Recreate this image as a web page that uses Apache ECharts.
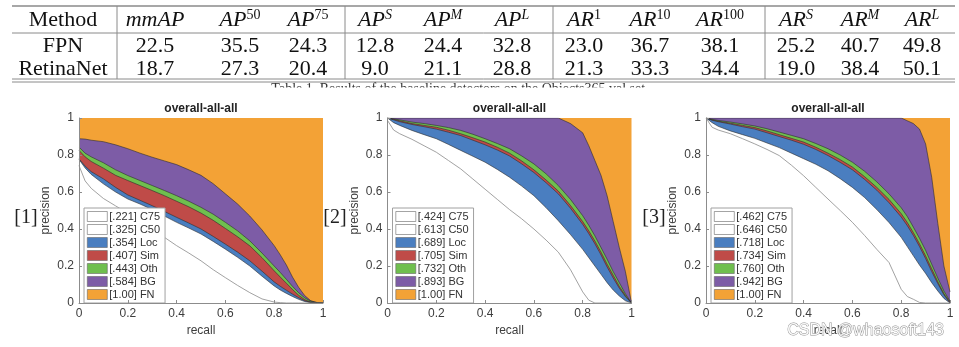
<!DOCTYPE html>
<html>
<head>
<meta charset="utf-8">
<script src="https://cdn.jsdelivr.net/npm/echarts@6/dist/echarts.min.js"></script>
<style>
  html, body { margin: 0; padding: 0; background: #fff; }
  #chart { width: 959px; height: 347px; }
</style>
</head>
<body>
<div id="chart"></div>
<script>
// ---- Table: baseline detector scores ----
const tableMethods = ['FPN', 'RetinaNet'];
const headBase = ['Method', 'mmAP', 'AP', 'AP', 'AP', 'AP', 'AP', 'AR', 'AR', 'AR', 'AR', 'AR', 'AR'];
const headSup = ['', '', '50', '75', 'S', 'M', 'L', '1', '10', '100', 'S', 'M', 'L'];
const fpnScores = [22.5, 35.5, 24.3, 12.8, 24.4, 32.8, 23.0, 36.7, 38.1, 25.2, 40.7, 49.8];
const retinaScores = [18.7, 27.3, 20.4, 9.0, 21.1, 28.8, 21.3, 33.3, 34.4, 19.0, 38.4, 50.1];
const tableCaption = 'Table 1. Results of the baseline detectors on the Objects365 val set.';

// ---- PR breakdown curves (precision at each recall level) ----
const recallGrid = [0, 0.025, 0.05, 0.1, 0.15, 0.2, 0.25, 0.3, 0.35, 0.4, 0.45, 0.5, 0.55, 0.6, 0.65, 0.7, 0.75, 0.8, 0.825, 0.85, 0.875, 0.9, 0.925, 0.95, 0.975, 1];
const fnRecall = [0, 1];
const fnPrecision = [1, 1];

// panel [1]
const bg1  = [0.888,0.886,0.880,0.872,0.855,0.834,0.810,0.788,0.768,0.748,0.720,0.690,0.645,0.590,0.535,0.470,0.395,0.310,0.260,0.205,0.140,0.085,0.040,0.012,0.003,0];
const oth1 = [0.843,0.810,0.790,0.758,0.720,0.689,0.662,0.635,0.608,0.580,0.550,0.517,0.480,0.436,0.390,0.336,0.270,0.200,0.165,0.128,0.090,0.056,0.028,0.010,0.002,0];
const sim1 = [0.825,0.790,0.765,0.729,0.690,0.662,0.635,0.608,0.580,0.550,0.520,0.486,0.447,0.403,0.358,0.309,0.245,0.174,0.140,0.107,0.073,0.042,0.018,0.005,0.001,0];
const loc1 = [0.779,0.740,0.710,0.671,0.625,0.584,0.555,0.526,0.495,0.463,0.432,0.400,0.360,0.318,0.275,0.228,0.172,0.114,0.090,0.069,0.048,0.029,0.012,0.003,0,0];
const c50a = [0.776,0.730,0.695,0.644,0.600,0.562,0.535,0.505,0.470,0.436,0.405,0.373,0.333,0.291,0.247,0.200,0.145,0.092,0.070,0.052,0.035,0.020,0.008,0.002,0,0];
const c75a = [0.743,0.660,0.620,0.565,0.525,0.485,0.445,0.400,0.355,0.310,0.270,0.228,0.180,0.137,0.095,0.056,0.022,0.005,0.002,0,0,0,0,0,0,0];
const legend1 = ['[.221] C75', '[.325] C50', '[.354] Loc', '[.407] Sim', '[.443] Oth', '[.584] BG', '[1.00] FN'];

// panel [2]
const bg2  = [1,1,1,1,1,1,1,1,1,1,1,1,1,1,1,1,0.970,0.920,0.850,0.770,0.690,0.580,0.440,0.300,0.170,0];
const oth2 = [1,0.995,0.990,0.978,0.970,0.960,0.948,0.933,0.912,0.888,0.862,0.834,0.795,0.752,0.698,0.635,0.560,0.472,0.420,0.363,0.300,0.237,0.170,0.110,0.050,0];
const sim2 = [1,0.993,0.985,0.970,0.960,0.950,0.934,0.915,0.893,0.870,0.842,0.810,0.768,0.720,0.665,0.605,0.527,0.440,0.390,0.335,0.275,0.210,0.150,0.090,0.040,0];
const loc2 = [1,0.990,0.980,0.965,0.953,0.940,0.923,0.905,0.880,0.855,0.827,0.795,0.752,0.705,0.650,0.590,0.512,0.425,0.375,0.320,0.260,0.195,0.135,0.080,0.035,0];
const c50b = [1,0.975,0.960,0.933,0.910,0.888,0.857,0.825,0.793,0.761,0.722,0.680,0.632,0.580,0.515,0.445,0.370,0.290,0.245,0.200,0.155,0.110,0.070,0.038,0.012,0];
const c75b = [0.987,0.935,0.915,0.885,0.850,0.815,0.770,0.725,0.670,0.615,0.560,0.505,0.455,0.400,0.340,0.275,0.180,0.060,0.015,0,0,0,0,0,0,0];
const legend2 = ['[.424] C75', '[.613] C50', '[.689] Loc', '[.705] Sim', '[.732] Oth', '[.893] BG', '[1.00] FN'];

// panel [3]
const bg3  = [1,1,1,1,1,1,1,1,1,1,1,1,1,1,1,1,1,1,0.985,0.970,0.940,0.860,0.680,0.430,0.200,0.060];
const oth3 = [1,0.993,0.987,0.978,0.968,0.957,0.942,0.924,0.906,0.888,0.862,0.834,0.800,0.761,0.712,0.655,0.590,0.515,0.468,0.410,0.350,0.285,0.210,0.135,0.065,0.010];
const sim3 = [1,0.990,0.983,0.972,0.960,0.948,0.930,0.910,0.890,0.870,0.842,0.810,0.775,0.735,0.683,0.625,0.560,0.483,0.435,0.380,0.320,0.255,0.185,0.115,0.050,0.005];
const loc3 = [1,0.988,0.980,0.967,0.953,0.940,0.920,0.900,0.880,0.858,0.830,0.797,0.760,0.720,0.668,0.610,0.542,0.465,0.418,0.365,0.305,0.240,0.170,0.105,0.045,0];
const c50c = [1,0.975,0.955,0.930,0.910,0.890,0.865,0.840,0.810,0.780,0.750,0.715,0.672,0.625,0.570,0.505,0.435,0.355,0.305,0.255,0.205,0.160,0.110,0.065,0.025,0];
const c75c = [1,0.950,0.935,0.915,0.888,0.860,0.830,0.797,0.745,0.688,0.625,0.562,0.500,0.436,0.365,0.290,0.219,0.074,0.035,0.020,0.003,0,0,0,0,0];
const legend3 = ['[.462] C75', '[.646] C50', '[.718] Loc', '[.734] Sim', '[.760] Oth', '[.942] BG', '[1.00] FN'];

const panelTitle = 'overall-all-all';
const panelTags = ['[1]', '[2]', '[3]'];

// ---- styling ----
const SANS = 'Liberation Sans, Arial, sans-serif';
const SERIF = 'Liberation Serif, Times New Roman, serif';
const AXIS_GREY = '#8c8c8c';
const TEXT_GREY = '#3d3d3d';
const EDGE = '#2e2e2e';
const fillColors = { C75: '#ffffff', C50: '#ffffff', Loc: '#4a7ec0', Sim: '#bf4b48', Oth: '#6fbf4e', BG: '#7d5ca6', FN: '#f3a236' };

const grids = [
  { left: 79, top: 118, width: 244, height: 185 },
  { left: 387.5, top: 118, width: 244, height: 185 },
  { left: 706, top: 118, width: 244, height: 185 }
];

const panels = [
  { curves: { BG: bg1, Oth: oth1, Sim: sim1, Loc: loc1, C50: c50a, C75: c75a }, labels: legend1 },
  { curves: { BG: bg2, Oth: oth2, Sim: sim2, Loc: loc2, C50: c50b, C75: c75b }, labels: legend2 },
  { curves: { BG: bg3, Oth: oth3, Sim: sim3, Loc: loc3, C50: c50c, C75: c75c }, labels: legend3 }
];
const legendKeys = ['C75', 'C50', 'Loc', 'Sim', 'Oth', 'BG', 'FN'];
const drawOrder = ['FN', 'BG', 'Oth', 'Sim', 'Loc', 'C50', 'C75'];

const xAxes = [], yAxes = [], series = [], legends = [], graphics = [];

panels.forEach((panel, i) => {
  const g = grids[i];
  xAxes.push({
    gridIndex: i, type: 'value', min: 0, max: 1, interval: 0.2, z: 5,
    name: 'recall', nameLocation: 'middle', nameGap: 18,
    nameTextStyle: { fontFamily: SANS, fontSize: 12, color: TEXT_GREY },
    axisLine: { lineStyle: { color: AXIS_GREY, width: 1 } },
    axisTick: { show: true, inside: true, length: 3, lineStyle: { color: AXIS_GREY } },
    axisLabel: { margin: 5, fontFamily: SANS, fontSize: 12, color: TEXT_GREY },
    splitLine: { show: false }
  });
  yAxes.push({
    gridIndex: i, type: 'value', min: 0, max: 1, interval: 0.2, z: 5,
    name: 'precision', nameLocation: 'middle', nameGap: 27,
    nameTextStyle: { fontFamily: SANS, fontSize: 12, color: TEXT_GREY },
    axisLine: { show: true, lineStyle: { color: AXIS_GREY, width: 1 } },
    axisTick: { show: true, inside: true, length: 3, lineStyle: { color: AXIS_GREY } },
    axisLabel: { margin: 5, fontFamily: SANS, fontSize: 12, color: TEXT_GREY },
    splitLine: { show: false }
  });

  const nameOf = key => panel.labels[legendKeys.indexOf(key)];
  drawOrder.forEach(key => {
    let xs, ys;
    if (key === 'FN') { xs = fnRecall; ys = fnPrecision; }
    else { xs = recallGrid; ys = panel.curves[key]; }
    series.push({
      type: 'line', name: nameOf(key), xAxisIndex: i, yAxisIndex: i,
      data: xs.map((r, k) => [r, ys[k]]),
      symbol: 'none', silent: true, animation: false,
      itemStyle: { color: fillColors[key] },
      lineStyle: key === 'FN' ? { width: 0 } :
                 key === 'C75' ? { color: '#8a8a8a', width: 0.8 } :
                 { color: EDGE, width: 0.6 },
      areaStyle: { color: fillColors[key], opacity: 1, origin: 'start' }
    });
  });

  legends.push({
    data: panel.labels, orient: 'vertical', left: g.left + 5, top: 208,
    icon: 'rect', itemWidth: 20, itemHeight: 10, itemGap: 2,
    padding: [3, 5, 3, 3], backgroundColor: '#ffffff',
    borderColor: '#a0a0a0', borderWidth: 1, borderRadius: 0,
    selectedMode: false,
    itemStyle: { borderColor: '#666666', borderWidth: 0.6 },
    textStyle: { fontFamily: SANS, fontSize: 11, color: '#333333', padding: [0, 0, 0, -3] }
  });

  graphics.push({
    type: 'text', x: g.left + g.width / 2, y: 109,
    style: { text: panelTitle, font: 'bold 12px ' + SANS, fill: '#222', align: 'center', verticalAlign: 'middle' }
  });
});

// panel tags [1] [2] [3]
const tagX = [26, 335, 654];
panelTags.forEach((t, i) => {
  graphics.push({
    type: 'text', x: tagX[i], y: 218,
    style: { text: t, font: '20px ' + SERIF, fill: '#222', align: 'center', verticalAlign: 'middle' }
  });
});

// ---- table ----
const colX = [63, 155, 240, 308, 375, 443, 512, 584, 650, 720, 796, 860, 922];
const rowY = [20, 46, 69];
const TF = 22;
const richStyles = {
  rm: { fontFamily: SERIF, fontSize: TF, fill: '#111', lineHeight: 24, verticalAlign: 'middle' },
  it: { fontFamily: SERIF, fontSize: TF, fontStyle: 'italic', fill: '#111', lineHeight: 24, verticalAlign: 'middle' },
  sup: { fontFamily: SERIF, fontSize: 14, fill: '#111', verticalAlign: 'top' },
  supIt: { fontFamily: SERIF, fontSize: 14, fontStyle: 'italic', fill: '#111', verticalAlign: 'top' }
};
headBase.forEach((base, c) => {
  let txt;
  if (c === 0) txt = '{rm|' + base + '}';
  else {
    const s = headSup[c];
    txt = '{it|' + base + '}' + (s ? (/^[0-9]+$/.test(s) ? '{sup|' + s + '}' : '{supIt|' + s + '}') : '');
  }
  graphics.push({
    type: 'text', x: colX[c], y: rowY[0],
    style: { text: txt, rich: richStyles, align: 'center', verticalAlign: 'middle' }
  });
});
[fpnScores, retinaScores].forEach((row, r) => {
  graphics.push({
    type: 'text', x: colX[0], y: rowY[r + 1],
    style: { text: tableMethods[r], font: TF + 'px ' + SERIF, fill: '#111', align: 'center', verticalAlign: 'middle' }
  });
  row.forEach((v, c) => {
    graphics.push({
      type: 'text', x: colX[c + 1], y: rowY[r + 1],
      style: { text: v.toFixed(1), font: TF + 'px ' + SERIF, fill: '#111', align: 'center', verticalAlign: 'middle' }
    });
  });
});
const ruleStyle = { stroke: '#8a8a8a', lineWidth: 1 };
[[6, 1.5], [33, 1], [79, 1], [82, 1]].forEach(([y, w]) => {
  graphics.push({ type: 'line', shape: { x1: 12, y1: y, x2: 955, y2: y }, style: { stroke: '#8a8a8a', lineWidth: w } });
});
[117, 345, 553, 765].forEach(x => {
  graphics.push({ type: 'line', shape: { x1: x, y1: 6, x2: x, y2: 79 }, style: ruleStyle });
});
// caption, mostly hidden under the figure strip
graphics.push({
  type: 'text', x: 460, y: 82, z: 1,
  style: { text: tableCaption, font: '14px ' + SERIF, fill: '#333', align: 'center', verticalAlign: 'top' }
});
graphics.push({ type: 'rect', z: 2, shape: { x: 0, y: 87.5, width: 959, height: 13 }, style: { fill: '#fff' } });

// watermark
graphics.push({
  type: 'text', x: 944, y: 331, z: 20,
  style: { text: 'CSDN @whaosoft143', font: '16px ' + SANS, fill: 'rgba(255,255,255,0.92)', stroke: '#8f8f8f', lineWidth: 0.9, align: 'right', verticalAlign: 'middle' }
});

const chart = echarts.init(document.getElementById('chart'), null, { renderer: 'canvas' });
chart.setOption({
  backgroundColor: '#ffffff',
  animation: false,
  grid: grids,
  xAxis: xAxes,
  yAxis: yAxes,
  legend: legends,
  series: series,
  graphic: graphics
});
</script>
</body>
</html>
